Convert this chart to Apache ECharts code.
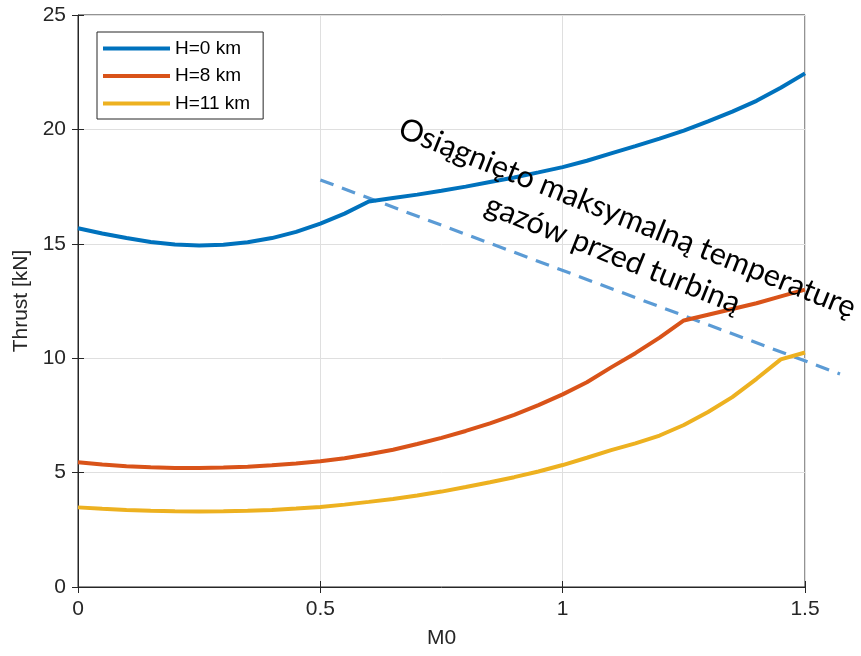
<!DOCTYPE html>
<html>
<head>
<meta charset="utf-8">
<script src="https://cdn.jsdelivr.net/npm/echarts@6/dist/echarts.min.js"></script>
<style>
  html, body { margin: 0; padding: 0; background: #fff; }
  #chart { width: 861px; height: 656px; }
</style>
</head>
<body>
<div id="chart"></div>
<script>
// Mach number samples
var mach = [0, 0.05, 0.1, 0.15, 0.2, 0.25, 0.3, 0.35, 0.4, 0.45, 0.5, 0.55, 0.6, 0.65, 0.7, 0.75,
            0.8, 0.85, 0.9, 0.95, 1.0, 1.05, 1.1, 1.15, 1.2, 1.25, 1.3, 1.35, 1.4, 1.45, 1.5];

// thrust [kN] for each altitude
var thrustH0 = [15.68, 15.45, 15.25, 15.08, 14.97, 14.93, 14.96, 15.07, 15.25, 15.52, 15.88, 16.32, 16.85, 17.0, 17.15, 17.32,
                17.5, 17.7, 17.9, 18.12, 18.35, 18.63, 18.95, 19.27, 19.6, 19.95, 20.35, 20.78, 21.25, 21.82, 22.45];
var thrustH8 = [5.45, 5.35, 5.28, 5.23, 5.2, 5.2, 5.22, 5.26, 5.32, 5.4, 5.5, 5.63, 5.8, 6.0, 6.25, 6.52,
                6.82, 7.15, 7.52, 7.95, 8.42, 8.95, 9.6, 10.22, 10.9, 11.65, 11.9, 12.15, 12.4, 12.7, 13.0];
var thrustH11 = [3.48, 3.42, 3.37, 3.33, 3.31, 3.3, 3.31, 3.33, 3.37, 3.43, 3.5, 3.6, 3.72, 3.85, 4.0, 4.17,
                 4.37, 4.58, 4.8, 5.05, 5.33, 5.65, 5.98, 6.28, 6.62, 7.08, 7.65, 8.3, 9.1, 9.95, 10.25];

// max turbine inlet temperature boundary (dashed), runs past the right edge
var limitM = [0.5, 1.572];
var limitT = [17.79, 9.31];

var seriesNames = ['H=0 km', 'H=8 km', 'H=11 km'];
var xTicks = [0, 0.5, 1, 1.5];
var yTicks = [0, 5, 10, 15, 20, 25];

function pairs(xs, ys) {
    return xs.map(function (x, i) { return [x, ys[i]]; });
}

var chart = echarts.init(document.getElementById('chart'));
var axisFont = '"Liberation Sans Narrow", "Liberation Sans", Arial, sans-serif';
var ink = '#262626';

// same scale as the main grid (727px for 1.5), just wider so the dashed line is not clipped
var pxPerM = 727 / 1.5;
var wideRight = 861 - 78 - Math.round(limitM[1] * pxPerM);

var tickOnly = function (pos, isX) {
    return {
        type: 'value', gridIndex: 0, position: pos,
        min: 0, max: isX ? 1.5 : 25, interval: isX ? 0.5 : 5,
        axisLine: { show: false },
        axisTick: { show: true, inside: true, length: 6, lineStyle: { color: ink } },
        axisLabel: { show: false },
        splitLine: { show: false }
    };
};

var option = {
    animation: false,
    backgroundColor: '#fff',
    grid: [
        { left: 78, right: 56, top: 15, bottom: 69, show: true, borderColor: ink, borderWidth: 1 },
        { left: 78, right: wideRight, top: 15, bottom: 69, show: false }
    ],
    legend: {
        orient: 'vertical',
        left: 97, top: 32,
        data: seriesNames,
        icon: 'rect',
        itemWidth: 67, itemHeight: 4,
        itemGap: 8.5,
        padding: [7, 13, 6, 6],
        borderColor: ink, borderWidth: 1,
        backgroundColor: '#fff',
        textStyle: { fontFamily: 'Liberation Sans, Arial, sans-serif', fontSize: 19, lineHeight: 19, color: '#000' }
    },
    xAxis: [
        {
            type: 'value', gridIndex: 0,
            min: 0, max: 1.5, interval: 0.5,
            name: 'M0',
            nameLocation: 'middle',
            nameGap: 41,
            nameTextStyle: { fontFamily: axisFont, fontSize: 21, color: ink },
            axisLine: { show: true, lineStyle: { color: ink } },
            axisTick: { inside: true, length: 6, lineStyle: { color: ink } },
            axisLabel: {
                fontFamily: axisFont, fontSize: 21, color: ink, margin: 12,
                formatter: function (v) { return xTicks.indexOf(v) >= 0 ? String(v) : ''; }
            },
            splitLine: { show: true, lineStyle: { color: '#dfdfdf' } }
        },
        tickOnly('top', true),
        { type: 'value', gridIndex: 1, min: 0, max: limitM[1], show: false }
    ],
    yAxis: [
        {
            type: 'value', gridIndex: 0,
            min: 0, max: 25, interval: 5,
            name: 'Thrust [kN]',
            nameLocation: 'middle',
            nameGap: 43,
            nameTextStyle: { fontFamily: axisFont, fontSize: 21, color: ink },
            axisLine: { show: true, lineStyle: { color: ink } },
            axisTick: { inside: true, length: 6, lineStyle: { color: ink } },
            axisLabel: {
                fontFamily: axisFont, fontSize: 21, color: ink, margin: 12,
                formatter: function (v) { return yTicks.indexOf(v) >= 0 ? String(v) : ''; }
            },
            splitLine: { show: true, lineStyle: { color: '#dfdfdf' } }
        },
        tickOnly('right', false),
        { type: 'value', gridIndex: 1, min: 0, max: 25, show: false }
    ],
    series: [
        {
            name: 'limit', type: 'line', showSymbol: false,
            xAxisIndex: 2, yAxisIndex: 2,
            data: pairs(limitM, limitT),
            lineStyle: { color: '#5B9BD5', width: 3.2, type: [14, 9] },
            z: 1
        },
        {
            name: seriesNames[0], type: 'line', showSymbol: false,
            data: pairs(mach, thrustH0),
            itemStyle: { color: '#0072BD' },
            lineStyle: { color: '#0072BD', width: 4 }
        },
        {
            name: seriesNames[1], type: 'line', showSymbol: false,
            data: pairs(mach, thrustH8),
            itemStyle: { color: '#D95319' },
            lineStyle: { color: '#D95319', width: 4 }
        },
        {
            name: seriesNames[2], type: 'line', showSymbol: false,
            data: pairs(mach, thrustH11),
            itemStyle: { color: '#EDB120' },
            lineStyle: { color: '#EDB120', width: 4 }
        }
    ],
    graphic: [
        {
            type: 'text',
            x: 620, y: 236,
            rotation: -21.8 * Math.PI / 180,
            z: 100,
            style: {
                text: 'Osiągnięto maksymalną temperaturę\ngazów przed turbiną',
                x: 0, y: 0,
                align: 'center', verticalAlign: 'middle',
                fontFamily: 'Lato, "Open Sans", sans-serif',
                fontSize: 30.5,
                lineHeight: 39,
                fill: '#000'
            }
        }
    ]
};

chart.setOption(option);
</script>
</body>
</html>
